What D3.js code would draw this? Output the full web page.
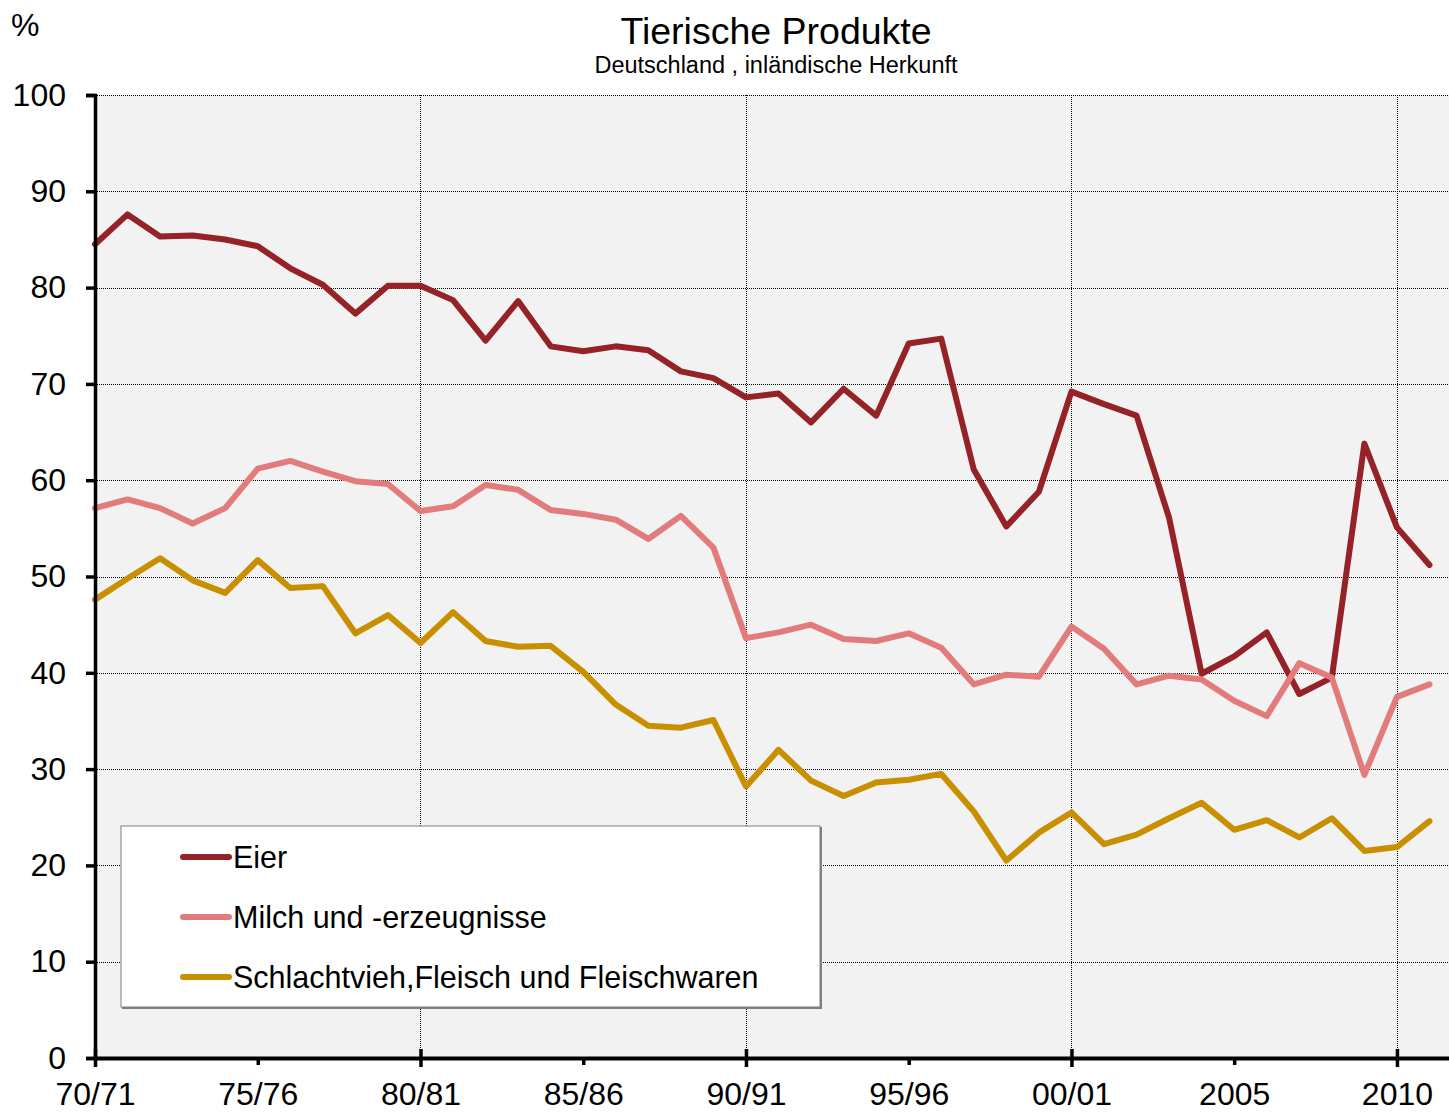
<!DOCTYPE html>
<html>
<head>
<meta charset="utf-8">
<script src="https://cdn.jsdelivr.net/npm/d3@7"></script>
<style>
  body { margin: 0; background: #fff; }
  svg { display: block; font-family: "Liberation Sans", Arial, sans-serif; }
</style>
</head>
<body>
<div id="chart"></div>
<script>
// Data, one value per Wirtschaftsjahr 1970/71 .. 2011
const years = d3.range(1970, 2012);
const tickLabels = ["70/71", "75/76", "80/81", "85/86", "90/91", "95/96", "00/01", "2005", "2010"];
const seriesNames = ["Eier", "Milch und -erzeugnisse", "Schlachtvieh,Fleisch und Fleischwaren"];
const eier = [84.5, 87.6, 85.3, 85.4, 85.0, 84.3, 82.0, 80.3, 77.3, 80.2,
  80.2, 78.7, 74.5, 78.6, 73.9, 73.4, 73.9, 73.5, 71.3, 70.6,
  68.6, 69.0, 66.0, 69.5, 66.7, 74.2, 74.7, 61.1, 55.2, 58.8,
  69.2, 67.9, 66.7, 56.1, 39.9, 41.7, 44.2, 37.8, 39.5, 63.8,
  55.1, 51.2];
const milch = [57.1, 58.0, 57.1, 55.5, 57.1, 61.2, 62.0, 60.9, 59.9, 59.6,
  56.8, 57.3, 59.5, 59.0, 56.9, 56.5, 55.9, 53.9, 56.3, 53.0,
  43.6, 44.2, 45.0, 43.5, 43.3, 44.1, 42.6, 38.8, 39.8, 39.6,
  44.8, 42.5, 38.8, 39.7, 39.3, 37.1, 35.5, 41.0, 39.5, 29.4,
  37.5, 38.8];
const fleisch = [47.6, 49.8, 51.9, 49.6, 48.3, 51.7, 48.8, 49.0, 44.1, 46.0,
  43.1, 46.3, 43.3, 42.7, 42.8, 40.1, 36.7, 34.5, 34.3, 35.1,
  28.2, 32.0, 28.8, 27.2, 28.6, 28.9, 29.5, 25.6, 20.5, 23.4,
  25.5, 22.2, 23.2, 24.9, 26.5, 23.7, 24.7, 22.9, 24.9, 21.5,
  21.9, 24.6];
const colors = ["#952226", "#e27c7c", "#c88f00"];

const W = 1449, H = 1113;
const plotLeft = 95, plotTop = 95, plotBottom = 1058, plotRight = 1449;

const svg = d3.select("#chart").append("svg")
  .attr("width", W).attr("height", H);

const x = d3.scaleLinear().domain([1970, 2011.6]).range([plotLeft, plotRight]);
const y = d3.scaleLinear().domain([0, 100]).range([plotBottom, plotTop]);

// Plot background
svg.append("rect")
  .attr("x", plotLeft).attr("y", plotTop)
  .attr("width", plotRight - plotLeft).attr("height", plotBottom - plotTop)
  .attr("fill", "#f2f2f2");

// Gridlines
const grid = svg.append("g").attr("stroke", "#000").attr("stroke-width", 1)
  .attr("stroke-dasharray", "1,1");
grid.selectAll(".h").data(d3.range(10, 101, 10)).join("line")
  .attr("x1", plotLeft).attr("x2", plotRight)
  .attr("y1", d => Math.round(y(d)) + 0.5).attr("y2", d => Math.round(y(d)) + 0.5);
grid.selectAll(".v").data([1980, 1990, 2000, 2010]).join("line")
  .attr("x1", d => Math.round(x(d)) + 0.5).attr("x2", d => Math.round(x(d)) + 0.5)
  .attr("y1", plotTop).attr("y2", plotBottom);

// Lines
const line = d3.line().x((d, i) => x(years[i])).y(d => y(d));
[eier, milch, fleisch].forEach((s, k) => {
  svg.append("path")
    .datum(s)
    .attr("d", line)
    .attr("fill", "none")
    .attr("stroke", colors[k])
    .attr("stroke-width", 6)
    .attr("stroke-linejoin", "round")
    .attr("stroke-linecap", "round");
});

// Y axis
const yAxis = svg.append("g")
  .attr("transform", `translate(${plotLeft},0)`)
  .call(d3.axisLeft(y).tickValues(d3.range(0, 101, 10)).tickSize(9).tickPadding(20));
yAxis.select(".domain").attr("stroke-width", 3.5);
yAxis.selectAll(".tick line").attr("stroke-width", 3.5);
yAxis.selectAll("text").attr("font-size", 32).attr("fill", "#000")
  .attr("font-family", "Liberation Sans, Arial, sans-serif");

// X axis
const xAxis = svg.append("g")
  .attr("transform", `translate(0,${plotBottom})`)
  .call(d3.axisBottom(x)
    .tickValues(d3.range(1970, 2011, 5))
    .tickFormat((d, i) => tickLabels[i])
    .tickSize(8).tickSizeOuter(0).tickPadding(16));
xAxis.select(".domain").attr("stroke-width", 4);
xAxis.selectAll(".tick line")
  .attr("stroke-width", 3.5)
  .attr("y1", d => (d % 10 === 0 ? -9 : 0))
  .attr("y2", d => (d % 10 === 0 ? 9 : 7));
xAxis.selectAll("text").attr("font-size", 32).attr("fill", "#000")
  .attr("font-family", "Liberation Sans, Arial, sans-serif");

// Titles
svg.append("text").attr("x", 776).attr("y", 44).attr("text-anchor", "middle")
  .attr("font-size", 37.5).text("Tierische Produkte");
svg.append("text").attr("x", 776).attr("y", 73).attr("text-anchor", "middle")
  .attr("font-size", 23.5).text("Deutschland , inländische Herkunft");
svg.append("text").attr("x", 11).attr("y", 36)
  .attr("font-size", 32).text("%");

// Legend
const legend = svg.append("g").attr("transform", "translate(121,826)");
legend.append("rect")
  .attr("x", 1).attr("y", 1).attr("width", 700).attr("height", 182)
  .attr("fill", "#808080");
legend.append("rect")
  .attr("width", 699).attr("height", 181)
  .attr("fill", "#fff").attr("stroke", "#7f7f7f").attr("stroke-width", 1);
const items = legend.selectAll(".item").data(seriesNames).join("g")
  .attr("transform", (d, i) => `translate(0,${31 + i * 60})`);
items.append("line")
  .attr("x1", 62).attr("x2", 108)
  .attr("stroke", (d, i) => colors[i])
  .attr("stroke-width", 6).attr("stroke-linecap", "round");
items.append("text")
  .attr("x", 112).attr("y", 10.5)
  .attr("font-size", 30.5).text(d => d);
</script>
</body>
</html>
